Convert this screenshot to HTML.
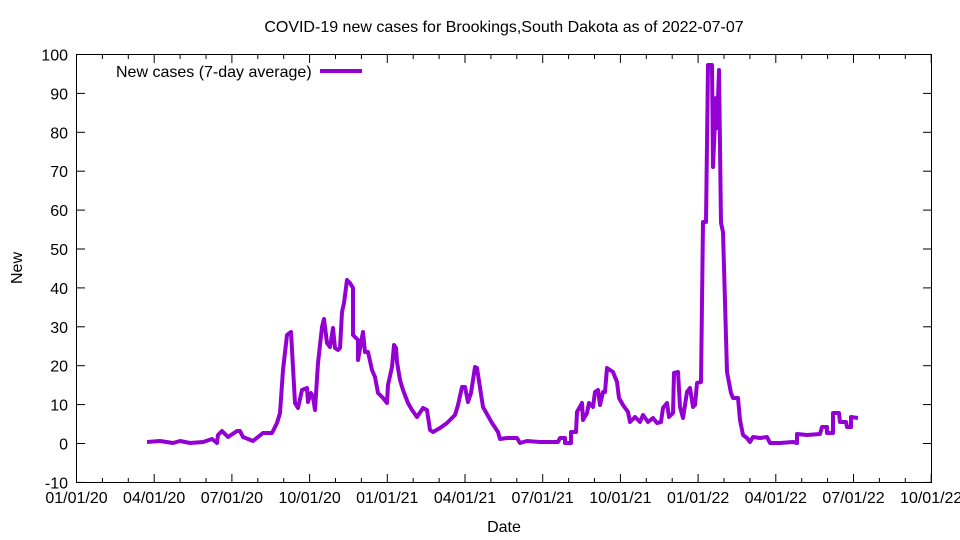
<!DOCTYPE html>
<html><head><style>body{margin:0;background:#fff}svg{display:block}</style></head><body>
<svg width="960" height="540" xmlns="http://www.w3.org/2000/svg" font-family="Liberation Sans, sans-serif" font-size="16">
<rect width="960" height="540" fill="#fff"/>
<text x="504" y="32" text-anchor="middle">COVID-19 new cases for Brookings,South Dakota as of 2022-07-07</text>
<rect x="76.5" y="54.5" width="855" height="428" fill="none" stroke="#000" stroke-width="1"/>
<g stroke="#000" stroke-width="1" id="ticks"></g>
<g text-anchor="end" id="ylab"></g>
<g text-anchor="middle" id="xlab"></g>
<text x="504" y="532" text-anchor="middle">Date</text>
<text transform="translate(22,268) rotate(-90)" text-anchor="middle">New</text>
<text x="116" y="77">New cases (7-day average)</text>
<line x1="320" y1="71" x2="362" y2="71" stroke="#9400d3" stroke-width="4"/>
<polyline fill="none" stroke="#9400d3" stroke-width="4" stroke-linejoin="round" points="147,442 160,441 173,443 180,441 190,443 203,442 212,439 217,443 218,435 222,431 228,437 237,431 240,431 243,437 253,441 263,433 272,433 277,423 280,413 283,370 287,335 291,332 295,403 298,408 302,390 307,388 308,402 311,393 313,397 315,410 318,363 322,327 324,319 327,343 330,347 333,328 335,348 338,350 340,348 342,312 344,303 347,280 350,283 353,288 353,335 358,340 358,360 361,343 363,332 365,352 368,352 372,370 375,377 378,393 383,398 387,403 388,385 392,367 394,345 396,348 397,362 400,380 403,390 408,403 412,410 417,417 423,408 427,410 430,430 433,432 440,428 447,423 455,415 458,405 462,387 465,387 468,402 471,393 475,367 477,368 483,407 492,423 498,432 500,439 507,438 517,438 520,443 527,441 540,442 558,442 560,438 565,438 565,443 571,443 571,432 576,432 577,412 582,403 583,420 587,413 589,403 593,407 595,392 598,390 600,405 603,392 605,392 607,368 610,370 613,372 617,382 619,398 623,405 628,412 630,422 635,417 640,422 643,415 648,422 653,418 657,423 661,422 663,408 667,403 669,417 673,413 674,373 678,372 680,407 683,418 687,392 690,388 693,407 695,405 697,383 701,382 703,222 706,222 708,65 712,65 713,167 716,98 717,128 719,70 721,223 723,232 727,372 731,393 733,398 738,398 740,420 743,435 747,438 750,442 753,437 760,438 767,437 770,443 780,443 793,442 797,443 797,434 807,435 820,434 822,427 827,427 827,433 833,433 833,413 839,413 840,422 846,422 847,427 851,427 851,417 858,418"/>
<script>
var t=document.getElementById('ticks'),yl=document.getElementById('ylab'),xl=document.getElementById('xlab'),ns='http://www.w3.org/2000/svg';
function L(a,b,c,d){var e=document.createElementNS(ns,'line');e.setAttribute('x1',a);e.setAttribute('y1',b);e.setAttribute('x2',c);e.setAttribute('y2',d);t.appendChild(e);}
function T(g,x,y,s){var e=document.createElementNS(ns,'text');e.setAttribute('x',x);e.setAttribute('y',y);e.textContent=s;g.appendChild(e);}
for(var i=0;i<=11;i++){var v=100-i*10,y=54.5+i*38.9;L(76.5,y,85,y);L(931.5,y,923,y);T(yl,68,y+6,v);}
var xs=['01/01/20','04/01/20','07/01/20','10/01/20','01/01/21','04/01/21','07/01/21','10/01/21','01/01/22','04/01/22','07/01/22','10/01/22'];
for(var i=0;i<12;i++){var x=76.5+i*77.7;L(x,482.5,x,474);L(x,54.5,x,63);T(xl,x,503,xs[i]);
if(i<11)for(var k=1;k<3;k++){var m=x+k*25.9;L(m,482.5,m,478);L(m,54.5,m,59);}}
</script>
</svg>
</body></html>
